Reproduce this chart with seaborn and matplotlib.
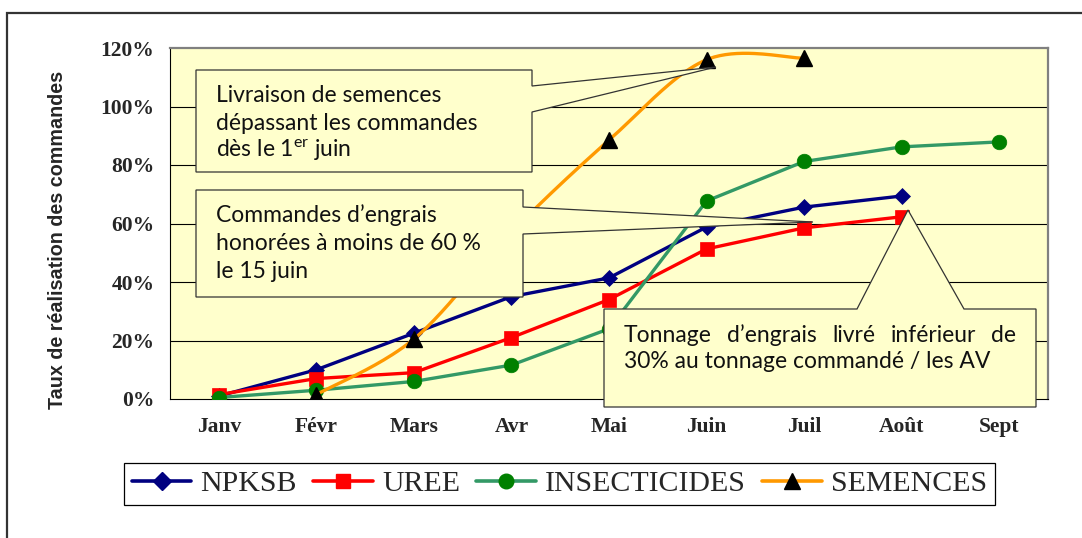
import numpy as np
import pandas as pd
import matplotlib
matplotlib.use("Agg")
import matplotlib.pyplot as plt
import seaborn as sns
from matplotlib.patches import Polygon, Rectangle
from matplotlib.lines import Line2D
from matplotlib.ticker import FixedLocator, NullFormatter

# ---------------- data ----------------
months = ["Janv", "Févr", "Mars", "Avr", "Mai", "Juin", "Juil", "Août", "Sept"]
npksb = [1.0, 10.0, 22.5, 35.0, 41.4, 58.8, 65.6, 69.4, np.nan]
uree = [1.5, 7.0, 9.0, 21.0, 34.0, 51.3, 58.5, 62.3, np.nan]
insecticides = [0.5, 3.0, 6.0, 11.6, 24.0, 67.7, 81.2, 86.2, 87.9]
semences = [np.nan, 1.5, 20.5, 57.0, 88.5, 116.0, 116.5, np.nan, np.nan]
yticks = [0, 20, 40, 60, 80, 100, 120]

W, H = 1082, 538

sns.set_style("white")
plt.rcParams["mathtext.fontset"] = "custom"
plt.rcParams["mathtext.rm"] = "Lato"
plt.rcParams["mathtext.it"] = "Lato:italic"

fig = plt.figure(figsize=(W / 100, H / 100), dpi=100)
fig.patch.set_facecolor("white")


def fx(px):
    return px / W


def fy(py):
    return 1 - py / H


ax = fig.add_axes([fx(170), fy(399), (1048 - 170) / W, (399 - 48) / H])
ax.set_facecolor("#FFFFCC")

xpos = np.arange(len(months))


def smooth(vals, n=40):
    v = np.asarray(vals, float)
    idx = np.where(~np.isnan(v))[0]
    y = v[idx]
    x = idx.astype(float)
    px_ = np.concatenate([[x[0]], x, [x[-1]]])
    py_ = np.concatenate([[y[0]], y, [y[-1]]])
    xs, ys = [], []
    for i in range(len(y) - 1):
        t = np.linspace(0, 1, n)
        h00 = 2 * t**3 - 3 * t**2 + 1
        h10 = t**3 - 2 * t**2 + t
        h01 = -2 * t**3 + 3 * t**2
        h11 = t**3 - t**2
        for P, out in ((px_, xs), (py_, ys)):
            p0, p1, p2, p3 = P[i], P[i + 1], P[i + 2], P[i + 3]
            m1 = (p2 - p0) / 2
            m2 = (p3 - p1) / 2
            out.append(h00 * p1 + h10 * m1 + h01 * p2 + h11 * m2)
    return np.concatenate(xs), np.concatenate(ys)


series = [
    ("NPKSB", npksb, "#000080", "D", "#000080", 8.5, 3),
    ("UREE", uree, "#FF0000", "s", "#FF0000", 10, 4),
    ("INSECTICIDES", insecticides, "#339966", "o", "#008000", 10.5, 5),
]
for name, vals, lc, mk, mc, ms, z in series:
    df = pd.DataFrame({"x": xpos, "y": vals}).dropna()
    sns.lineplot(data=df, x="x", y="y", ax=ax, color=lc, lw=2.4, marker=mk,
                 markersize=ms, markerfacecolor=mc, markeredgecolor=mc,
                 markeredgewidth=0.5, zorder=z, estimator=None, sort=False)

sx, sy = smooth(semences)
sns.lineplot(x=sx, y=sy, ax=ax, color="#FF9900", lw=2.4, zorder=6,
             estimator=None, sort=False)
dfs = pd.DataFrame({"x": xpos, "y": semences}).dropna()
ax.plot(dfs["x"], dfs["y"], ls="none", marker="^", markersize=11,
        color="black", zorder=7)

ax.set_xlim(-0.5, 8.5)
ax.set_ylim(0, 120)
ax.set_xlabel("")
ax.set_ylabel("")
ax.set_yticks(yticks)
ax.set_yticklabels([f"{v}%" for v in yticks])
ax.set_xticks(xpos)
ax.set_xticklabels(months)
ax.xaxis.set_minor_locator(FixedLocator(np.arange(-0.5, 9.0, 1.0)))
ax.xaxis.set_minor_formatter(NullFormatter())
ax.tick_params(axis="x", which="major", length=0, pad=13)
ax.tick_params(axis="x", which="minor", length=4.3, width=0.8, color="black", direction="out")
ax.tick_params(axis="y", which="major", length=4.3, width=0.8, color="black", direction="out", pad=7)
for lab in ax.get_xticklabels() + ax.get_yticklabels():
    lab.set_fontfamily("Liberation Serif")
    lab.set_fontweight("bold")
    lab.set_fontsize(15.5)
ax.grid(False)
for v in yticks[1:-1]:
    ax.axhline(v, color="black", lw=0.8, zorder=1)
ax.spines["left"].set_color("black")
ax.spines["left"].set_linewidth(0.8)
ax.spines["bottom"].set_color("black")
ax.spines["bottom"].set_linewidth(0.8)
for s in ("top", "right"):
    ax.spines[s].set_visible(True)
    ax.spines[s].set_color("#808080")
    ax.spines[s].set_linewidth(1.6)

fig.text(fx(58), fy(240), "Taux de réalisation des commandes", rotation=90,
         ha="center", va="center", fontsize=14.2, fontweight="bold",
         family="Liberation Sans")

# outer chart border
fig.add_artist(Rectangle((fx(6.5), fy(560)), fx(1090 - 6.5), (560 - 12.5) / H,
                         transform=fig.transFigure, fill=False, edgecolor="#333333",
                         lw=1.6, clip_on=False))

# callouts
callouts = [
    [(196, 70), (532, 70), (532, 86), (716, 67), (532, 112), (532, 172), (196, 172)],
    [(196, 190), (523, 190), (523, 207), (813, 222), (523, 234), (523, 297), (196, 297)],
    [(604, 309), (857, 309), (908, 210), (964, 309), (1036, 309), (1036, 407), (604, 407)],
]
for pts in callouts:
    poly = Polygon([(fx(a), fy(b)) for a, b in pts], closed=True,
                   transform=fig.transFigure, facecolor="#FFFFCC",
                   edgecolor="#333333", lw=0.9, zorder=10)
    fig.add_artist(poly)

cfont = dict(family="Lato", fontsize=16.5, color="#111111", zorder=11,
             ha="left", va="center")
fig.text(fx(216), fy(95), "Livraison de semences", **cfont)
fig.text(fx(216), fy(123), "dépassant les commandes", **cfont)
fig.text(fx(216), fy(150), r"dès le 1$^{\mathrm{er}}$ juin", **cfont)
fig.text(fx(216), fy(215), "Commandes d’engrais", **cfont)
fig.text(fx(216), fy(243), "honorées à moins de 60 %", **cfont)
fig.text(fx(216), fy(272), "le 15 juin", **cfont)

# justified first line of third callout
words = "Tonnage d’engrais livré inférieur de".split()
renderer = fig.canvas.get_renderer()
arts = [fig.text(0, 0, w, **cfont) for w in words]
widths = [a.get_window_extent(renderer).width for a in arts]
x0, x1 = 624, 1016
gap = (x1 - x0 - sum(widths)) / (len(words) - 1)
cur = x0
for a, w in zip(arts, widths):
    a.set_position((fx(cur), fy(335)))
    cur += w + gap
fig.text(fx(624), fy(362), "30% au tonnage commandé / les AV", **cfont)

# legend
handles = [
    Line2D([], [], color="#000080", lw=2.6, marker="D", markersize=9,
           markerfacecolor="#000080", markeredgecolor="#000080"),
    Line2D([], [], color="#FF0000", lw=2.6, marker="s", markersize=10,
           markerfacecolor="#FF0000", markeredgecolor="#FF0000"),
    Line2D([], [], color="#339966", lw=2.6, marker="o", markersize=10.5,
           markerfacecolor="#008000", markeredgecolor="#008000"),
    Line2D([], [], color="#FF9900", lw=2.6, marker="^", markersize=11,
           markerfacecolor="black", markeredgecolor="black"),
]
leg = fig.legend(handles, ["NPKSB", "UREE", "INSECTICIDES", "SEMENCES"],
                 loc="center", bbox_to_anchor=(fx(559.5), fy(484)), ncol=4,
                 frameon=True, fancybox=False, edgecolor="black", framealpha=1,
                 prop={"family": "Liberation Serif", "size": 21.5},
                 handlelength=2.0, handletextpad=0.3, columnspacing=0.55,
                 borderpad=0.25, borderaxespad=0)
leg.get_frame().set_linewidth(0.9)

fig.savefig("out.png", dpi=100)
